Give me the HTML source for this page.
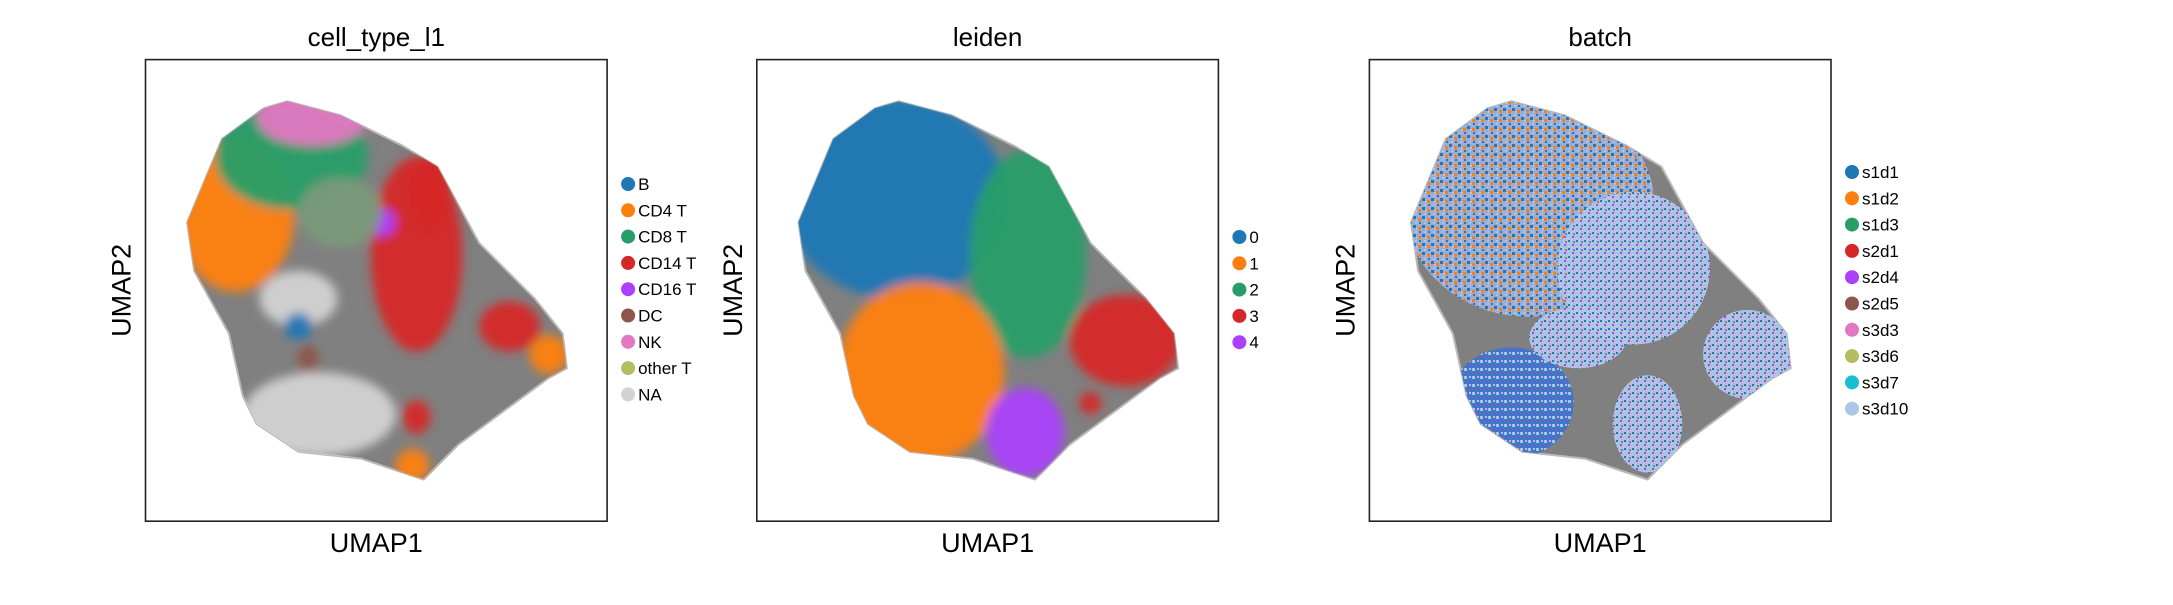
<!DOCTYPE html>
<html><head><meta charset="utf-8"><style>
body{margin:0;background:#fff;width:2173px;height:600px;overflow:hidden}
svg text{font-family:"Liberation Sans","DejaVu Sans",sans-serif;fill:#000}
</style></head><body>
<svg id="c" width="2173" height="600" xmlns="http://www.w3.org/2000/svg">
<defs>
<filter id="soft" x="-20%" y="-20%" width="140%" height="140%"><feGaussianBlur stdDeviation="5"/></filter>
<pattern id="mix1" width="9" height="9" patternUnits="userSpaceOnUse">
<rect width="9" height="9" fill="#9eaed6"/><rect x="0" y="0" width="3" height="3" fill="#1f77b4"/><rect x="5" y="2" width="3" height="3" fill="#ff7f0e"/><rect x="2" y="6" width="2" height="2" fill="#aec7e8"/><rect x="6" y="6" width="2" height="2" fill="#1f77b4"/><rect x="3" y="3" width="2" height="2" fill="#aec7e8"/>
</pattern>
<pattern id="mix2" width="8" height="8" patternUnits="userSpaceOnUse">
<rect width="8" height="8" fill="#aec7e8"/><rect x="0" y="0" width="2" height="2" fill="#1f77b4"/><rect x="4" y="4" width="2" height="2" fill="#a53ff2"/><rect x="5" y="1" width="2" height="2" fill="#808080"/>
</pattern>
<pattern id="mix3" width="8" height="8" patternUnits="userSpaceOnUse">
<rect width="8" height="8" fill="#3b78c8"/><rect x="0" y="0" width="3" height="3" fill="#aec7e8"/><rect x="4" y="4" width="2" height="2" fill="#a53ff2"/><rect x="5" y="0" width="2" height="2" fill="#aec7e8"/>
</pattern>
</defs>
</svg>
<script>
// UMAP hull outline (shared embedding), in embedding units 0..332
const hullX=[102,140,185,210,240,280,300,303,290,225,200,185,155,110,80,70,60,35,30,55,85];
const hullY=[30,40,62,77,132,172,197,222,229,277,302,297,287,282,262,242,197,152,117,57,35];
// panel 1: cell_type_l1 regions
const p1Cx=[65,105,120,195,205,170,262,125,110,110,117,290,192,195,140];
const p1Cy=[112,70,42,140,95,117,192,255,172,192,215,212,292,257,110];
const p1Rx=[42,55,40,33,15,10,22,55,28,10,8,14,12,10,30];
const p1Ry=[55,38,20,70,28,10,18,30,20,10,10,14,12,12,25];
const p1Col=["#ff7f0e","#279e68","#e377c2","#d62728","#d62728","#aa40fc","#d62728","#d3d3d3","#d3d3d3","#1f77b4","#8c564b","#ff7f0e","#ff7f0e","#d62728","#7a9a7a"];
// panel 2: leiden regions
const p2Cx=[100,195,118,265,193,240];
const p2Cy=[100,140,225,202,268,247];
const p2Rx=[80,42,60,40,28,8];
const p2Ry=[72,75,65,33,32,8];
const p2Col=["#1f77b4","#279e68","#ff7f0e","#d62728","#aa40fc","#d62728"];
// panel 3: batch regions
const p3Cx=[115,190,102,272,200,150];
const p3Cy=[105,150,247,212,262,200];
const p3Rx=[90,55,45,32,25,35];
const p3Ry=[80,55,40,32,35,22];
const p3Col=["url(#mix1)","url(#mix2)","url(#mix3)","url(#mix2)","url(#mix2)","url(#mix2)"];
const titles=["cell_type_l1","leiden","batch"];
const leg1=["B","CD4 T","CD8 T","CD14 T","CD16 T","DC","NK","other T","NA"];
const leg1c=["#1f77b4","#ff7f0e","#279e68","#d62728","#aa40fc","#8c564b","#e377c2","#b5bd61","#d3d3d3"];
const leg2=["0","1","2","3","4"];
const leg2c=["#1f77b4","#ff7f0e","#279e68","#d62728","#aa40fc"];
const leg3=["s1d1","s1d2","s1d3","s2d1","s2d4","s2d5","s3d3","s3d6","s3d7","s3d10"];
const leg3c=["#1f77b4","#ff7f0e","#279e68","#d62728","#aa40fc","#8c564b","#e377c2","#b5bd61","#17becf","#aec7e8"];

const NS="http://www.w3.org/2000/svg";
const svg=document.getElementById('c');
function mk(tag,attrs,parent){const e=document.createElementNS(NS,tag);for(const k in attrs)e.setAttribute(k,attrs[k]);(parent||svg).appendChild(e);return e;}
const lefts=[145.5,756.8,1369.4], top0=59.6, size=461.6, s=size/332;
const regions=[[p1Cx,p1Cy,p1Rx,p1Ry,p1Col],[p2Cx,p2Cy,p2Rx,p2Ry,p2Col],[p3Cx,p3Cy,p3Rx,p3Ry,p3Col]];
const legs=[[leg1,leg1c,184],[leg2,leg2c,237],[leg3,leg3c,172]];
for(let p=0;p<3;p++){
  const L=lefts[p];
  const X=v=>L+v*s, Y=v=>top0+v*s;
  const g=mk('g',{});
  
  
  const cp=mk('clipPath',{id:'clip'+p},g);
  const pts=hullX.map((x,i)=>X(x).toFixed(1)+','+Y(hullY[i]).toFixed(1)).join(' ');
  mk('polygon',{points:pts},cp);
  const hull=mk('polygon',{points:pts,fill:'#808080',stroke:'#b8b8b8','stroke-width':2,'stroke-linejoin':'round'},g);
  
  
  const rg=mk('g',{'clip-path':'url(#clip'+p+')'},g);
  const ig=mk('g',{filter:p<2?'url(#soft)':''},rg);
  const [cx,cy,rx,ry,col]=regions[p];
  for(let i=0;i<cx.length;i++){
    const e=mk('ellipse',{cx:X(cx[i]),cy:Y(cy[i]),rx:rx[i]*s,ry:ry[i]*s,fill:col[i],opacity:0.95},ig);
    
    
  }
  const fr=mk('rect',{x:L,y:top0,width:size,height:size,fill:'none',stroke:'#222','stroke-width':1.6},g);
  
  
  const t=mk('text',{x:L+size/2,y:46,'text-anchor':'middle','font-size':26},g);t.textContent=titles[p];
  
  
  const xl=mk('text',{x:L+size/2,y:552,'text-anchor':'middle','font-size':27},g);xl.textContent='UMAP1';
  
  
  const yx=L-15,yy=top0+size/2;
  const yl=mk('text',{x:yx,y:yy,'text-anchor':'middle','font-size':27,transform:`rotate(-90 ${yx} ${yy})`},g);yl.textContent='UMAP2';
  
  
  const [names,cols,y0]=legs[p];
  for(let i=0;i<names.length;i++){
    const lg=mk('g',{},g);
    
    
    const yy2=y0+i*26.3;
    mk('circle',{cx:L+size+21,cy:yy2,r:7,fill:cols[i]},lg);
    const tt=mk('text',{x:L+size+31,y:yy2+6,'font-size':17},lg);tt.textContent=names[i];
  }
}
</script>
</body></html>
